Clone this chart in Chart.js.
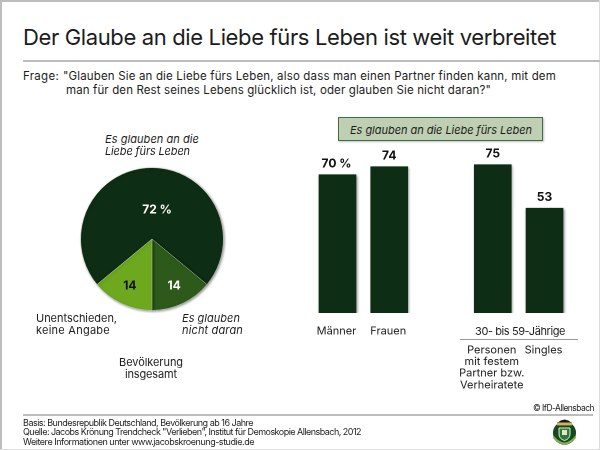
<!DOCTYPE html>
<html lang="de"><head><meta charset="utf-8">
<script src="https://cdn.jsdelivr.net/npm/chart.js@4"></script>
<style>
html,body{margin:0;padding:0;background:#fff}
#page{position:relative;width:600px;height:450px;overflow:hidden;background:#fff;font-family:Inter,"Liberation Sans",sans-serif;color:#1c1c1c}
#page canvas{position:absolute}
.t{position:absolute;white-space:nowrap;line-height:14px;height:14px;transform:translateY(-7px)}
.i{font-style:italic}
.r{position:absolute;background:#bdbdbd}
</style></head><body>
<div id="page">
<div class="r" style="left:0;top:0;width:600px;height:1.5px"></div>
<div class="r" style="left:0;top:0;width:1.5px;height:450px"></div>
<div class="r" style="left:599px;top:0;width:1px;height:450px;background:#ddd"></div>
<div class="r" style="left:0;top:449px;width:600px;height:1px;background:#ddd"></div>
<div class="r" style="left:23px;top:59.5px;width:577px;height:2px"></div>
<div class="r" style="left:23px;top:414px;width:570px;height:2px"></div>
<div class="r" style="left:460px;top:338.5px;width:118px;height:1px;background:#999"></div>
<div style="position:absolute;left:337.5px;top:117px;width:205px;height:24px;box-sizing:border-box;background:#bfd0b2;border:1px solid #3f6b48;box-shadow:1px 1px 2px rgba(0,0,0,.25)"></div>
<canvas id="pie" style="left:62px;top:149px;width:180px;height:180px"></canvas>
<canvas id="bars" style="left:300px;top:145px;width:285px;height:250px"></canvas>
<div id="text"></div>
<svg style="position:absolute;left:551px;top:417px" width="27" height="31" viewBox="0 0 27 31">
<circle cx="13.5" cy="16" r="11.5" fill="#14491f"/>
<path d="M6 6 Q13.5 -1 21 6 L21 9 L6 9Z" fill="#1a1a12"/>
<rect x="6" y="5.5" width="15" height="3" fill="#c9b660"/>
<path d="M8 11h11v6q0 5-5.500 6.500Q8 22 8 17z" fill="#2f7a3a" stroke="#e8ecd8" stroke-width="1"/>
<path d="M11 13h5v5h-5z" fill="#dfe7c9"/>
<path d="M2.500 20Q13.500 33 24.500 20" fill="none" stroke="#7fae52" stroke-width="2"/>
</svg>
</div>
<script>
// --- Chart data ---
const pieLabels = ["Es glauben an die Liebe fürs Leben", "Es glauben nicht daran", "Unentschieden, keine Angabe"];
const pieValues = [72, 14, 14];
const pieValueText = ["72 %", "14", "14"];
const barCategories = ["Männer", "Frauen", "", "Personen mit festem Partner bzw. Verheiratete", "Singles"];
const barValues = [70, 74, null, 75, 53];
const barValueText = ["70 %", "74", "", "75", "53"];
const barTickLines = [["Männer"], ["Frauen"], [], ["Personen", "mit festem", "Partner bzw.", "Verheiratete"], ["Singles"]];
const DARK = "#0d2e14", OLIVE = "#2d5a1b", LIGHT = "#6ea81f";
const FONT = 'Inter, "Liberation Sans", sans-serif';

// --- Static page text: [text, left, centre y, target width, size, italic] ---
const texts = [
 ["Der Glaube an die Liebe fürs Leben ist weit verbreitet",23,37,533,22,0],
 ["Frage:",23,76,36,11.5,0],
 ["\"Glauben Sie an die Liebe fürs Leben, also dass man einen Partner finden kann, mit dem",63,76,493,11.5,0],
 ["man für den Rest seines Lebens glücklich ist, oder glauben Sie nicht daran?\"",66,90,425,11.5,0],
 ["Es glauben an die",105,139,94,11,1],
 ["Liebe fürs Leben",105,151,85,11,1],
 ["Unentschieden,",36,318,81,11,0],
 ["keine Angabe",36,330,74,11,0],
 ["Es glauben",182,318,58,11,1],
 ["nicht daran",182,330,61,11,1],
 ["Bevölkerung",119,362,64,11,0],
 ["insgesamt",125,374,52,11,0],
 ["Es glauben an die Liebe fürs Leben",350,130,182,11,1],
 ["30- bis 59-Jährige",475,331,90,11,0],
 ["© IfD-Allensbach",533,408,61,8.5,0],
 ["Basis: Bundesrepublik Deutschland, Bevölkerung ab 16 Jahre",23,423,230,9,0],
 ["Quelle: Jacobs Krönung Trendcheck \"Verlieben\", Institut für Demoskopie Allensbach, 2012",23,432,338,9,0],
 ["Weitere Informationen unter www.jacobskroenung-studie.de",23,442,231,9,0]
];
const host = document.getElementById("text");
for (const [s,x,y,w,fs,it] of texts) {
  const d = document.createElement("div");
  d.className = "t" + (it ? " i" : "");
  d.textContent = s;
  d.style.left = x + "px"; d.style.top = y + "px"; d.style.fontSize = fs + "px";
  host.appendChild(d);
  const cur = d.getBoundingClientRect().width;
  d.style.letterSpacing = ((w - cur) / s.length).toFixed(3) + "px";
}

Chart.defaults.animation = false;
Chart.defaults.responsive = false;
Chart.defaults.devicePixelRatio = 2;

// Soft drop shadow under the marks
const shadowPlugin = {
  id: "softShadow",
  beforeDatasetDraw(c) { const x = c.ctx; x.save(); x.shadowColor = "rgba(0,0,0,.45)"; x.shadowBlur = 5; x.shadowOffsetX = 2; x.shadowOffsetY = 2; },
  afterDatasetDraw(c) { c.ctx.restore(); }
};

// Pie value labels
const pieLabelPlugin = {
  id: "pieText",
  afterDatasetsDraw(c) {
    const x = c.ctx, arcs = c.getDatasetMeta(0).data;
    const pieTextColor = ["#fff", "#fff", "#111"];
    const pieTextRadius = [29, 52, 52];
    x.save(); x.font = "bold 12px " + FONT; x.textAlign = "center"; x.textBaseline = "middle";
    arcs.forEach((a, i) => {
      const m = (a.startAngle + a.endAngle) / 2;
      x.fillStyle = pieTextColor[i];
      x.fillText(pieValueText[i], a.x + Math.cos(m) * pieTextRadius[i] + (i === 0 ? 5 : 0), a.y + Math.sin(m) * pieTextRadius[i]);
    });
    x.restore();
  }
};
new Chart(document.getElementById("pie"), {
  type: "pie",
  data: { labels: pieLabels, datasets: [{ data: pieValues, backgroundColor: [DARK, OLIVE, LIGHT], borderColor: "#cfd8c0", borderWidth: 0.4 }] },
  options: { rotation: 230.4, layout: { padding: 18.5 }, plugins: { legend: { display: false }, tooltip: { enabled: false } } },
  plugins: [shadowPlugin, pieLabelPlugin]
});

// Bar labels
const barTextPlugin = {
  id: "barText",
  afterDatasetsDraw(c) {
    const x = c.ctx, sx = c.scales.x, sy = c.scales.y;
    x.save(); x.textAlign = "center"; x.textBaseline = "middle";
    barValues.forEach((v, i) => {
      const px = sx.getPixelForValue(i);
      if (v !== null) {
        x.font = "bold 12px " + FONT; x.fillStyle = "#111";
        x.fillText(barValueText[i], px - (i === 0 ? 1 : 0), sy.getPixelForValue(v) - 11);
      }
      x.font = "11px " + FONT; x.fillStyle = "#1c1c1c";
      const top = i < 2 ? 331 - 145 : 350 - 145;
      barTickLines[i].forEach((l, k) => x.fillText(l, px - 1, top + k * 11.7));
    });
    x.restore();
  }
};
new Chart(document.getElementById("bars"), {
  type: "bar",
  data: { labels: barCategories, datasets: [{ data: barValues, backgroundColor: DARK, barThickness: 37 }] },
  options: {
    layout: { padding: { left: 11.6, right: 14.6, top: 0, bottom: 82 } },
    scales: {
      x: { display: false, grid: { display: false } },
      y: { display: false, min: 0, max: 85, grid: { display: false } }
    },
    plugins: { legend: { display: false }, tooltip: { enabled: false } }
  },
  plugins: [shadowPlugin, barTextPlugin]
});
</script>
</body></html>
